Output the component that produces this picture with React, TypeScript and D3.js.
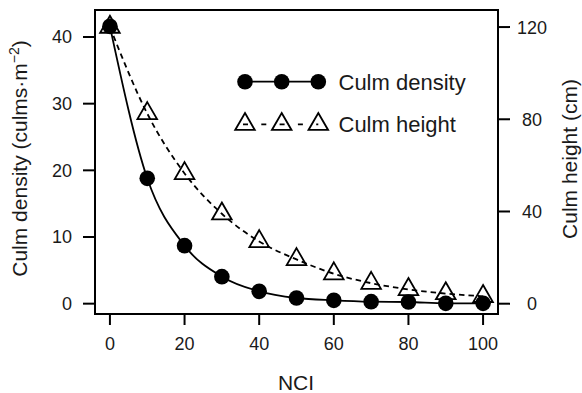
import React from "react";
import * as d3 from "d3";

const nci = [0, 10, 20, 30, 40, 50, 60, 70, 80, 90, 100];
const culmDensity = [41.6, 18.8, 8.7, 4.05, 1.85, 0.85, 0.5, 0.3, 0.25, 0.05, 0.05];
const culmHeight = [120, 82.5, 56.5, 39, 27, 19.2, 13, 8.9, 6.2, 4.4, 3.2];
const xTicks = [0, 20, 40, 60, 80, 100];
const leftTicks = [0, 10, 20, 30, 40];
const rightTicks = [0, 40, 80, 120];
const legendLabels = ["Culm density", "Culm height"];

const W = 582;
const H = 393;
const box = { left: 95, right: 498, top: 10, bottom: 314 };
const FONT = "'Liberation Sans', Arial, Helvetica, sans-serif";

const x = d3.scaleLinear().domain([-4, 104]).range([box.left, box.right]);
const yL = d3.scaleLinear().domain([-1.55, 44.05]).range([box.bottom, box.top]);
const yR = d3.scaleLinear().domain([-4.47, 127.4]).range([box.bottom, box.top]);

const triPath = (cx: number, cy: number) => {
  const h = 17;
  const hw = 9.8;
  const top = cy - (2 / 3) * h;
  const bot = cy + h / 3;
  return `M${cx},${top}L${cx + hw},${bot}L${cx - hw},${bot}Z`;
};

export default function App() {
  const densPts = nci.map((v, i) => [x(v), yL(culmDensity[i])] as [number, number]);
  const heightPts = nci.map((v, i) => [x(v), yR(culmHeight[i])] as [number, number]);
  const line = d3.line().curve(d3.curveMonotoneX);

  const legX = [245, 281.7, 318.3];
  const legY = [81.7, 124.3];
  const legTextX = 338.5;

  return (
    <svg
      width={W}
      height={H}
      style={{ position: "absolute", left: 0, top: 0, background: "#fff" }}
      fontFamily={FONT}
    >
      <rect x={0} y={0} width={W} height={H} fill="#fff" />
      {/* lines */}
      <path d={line(densPts) || ""} fill="none" stroke="#000" strokeWidth={1.8} />
      <path
        d={line(heightPts) || ""}
        fill="none"
        stroke="#000"
        strokeWidth={1.8}
        strokeDasharray="5.5,4"
      />
      {/* markers */}
      {densPts.map((p, i) => (
        <circle key={"c" + i} cx={p[0]} cy={p[1]} r={7.8} fill="#000" />
      ))}
      {heightPts.map((p, i) => (
        <path key={"t" + i} d={triPath(p[0], p[1])} fill="none" stroke="#000" strokeWidth={1.8} strokeLinejoin="miter" />
      ))}
      {/* box */}
      <rect
        x={box.left}
        y={box.top}
        width={box.right - box.left}
        height={box.bottom - box.top}
        fill="none"
        stroke="#000"
        strokeWidth={2}
      />
      {/* x axis */}
      {xTicks.map((t) => (
        <g key={"x" + t}>
          <line x1={x(t)} x2={x(t)} y1={box.bottom} y2={box.bottom + 11} stroke="#000" strokeWidth={2} />
          <text x={x(t)} y={350} fontSize={18} textAnchor="middle" fill="#1a1a1a">
            {t}
          </text>
        </g>
      ))}
      {/* left axis */}
      {leftTicks.map((t) => (
        <g key={"l" + t}>
          <line x1={box.left - 12} x2={box.left} y1={yL(t)} y2={yL(t)} stroke="#000" strokeWidth={2} />
          <text x={72} y={yL(t)} dy="0.36em" fontSize={18} textAnchor="end" fill="#1a1a1a">
            {t}
          </text>
        </g>
      ))}
      {/* right axis */}
      {rightTicks.map((t) => (
        <g key={"r" + t}>
          <line x1={box.right} x2={box.right + 12} y1={yR(t)} y2={yR(t)} stroke="#000" strokeWidth={2} />
          <text x={532} y={yR(t)} dy="0.36em" fontSize={18} textAnchor="middle" fill="#1a1a1a">
            {t}
          </text>
        </g>
      ))}
      {/* axis titles */}
      <text x={296} y={389.5} fontSize={21} textAnchor="middle" fill="#1a1a1a">
        NCI
      </text>
      <text
        transform="translate(27,158.5) rotate(-90)"
        fontSize={21}
        textAnchor="middle"
        fill="#1a1a1a"
      >
        Culm density (culms·m
        <tspan dy={-8} fontSize={14}>−2</tspan>
        <tspan dy={8}>)</tspan>
      </text>
      <text
        transform="translate(577,159) rotate(-90)"
        fontSize={21}
        textAnchor="middle"
        fill="#1a1a1a"
      >
        Culm height (cm)
      </text>
      {/* legend */}
      <line x1={legX[0]} x2={legX[2]} y1={legY[0]} y2={legY[0]} stroke="#000" strokeWidth={1.8} />
      {legX.map((lx, i) => (
        <circle key={"lc" + i} cx={lx} cy={legY[0]} r={7.8} fill="#000" />
      ))}
      <line
        x1={243}
        x2={legX[2]}
        y1={legY[1]}
        y2={legY[1]}
        stroke="#000"
        strokeWidth={1.8}
        strokeDasharray="5,13.3"
      />
      {legX.map((lx, i) => (
        <path key={"lt" + i} d={triPath(lx, legY[1])} fill="none" stroke="#000" strokeWidth={1.8} />
      ))}
      <text x={legTextX} y={legY[0]} dy="0.36em" fontSize={22} fill="#1a1a1a">
        {legendLabels[0]}
      </text>
      <text x={legTextX} y={legY[1]} dy="0.36em" fontSize={22} fill="#1a1a1a">
        {legendLabels[1]}
      </text>
    </svg>
  );
}
